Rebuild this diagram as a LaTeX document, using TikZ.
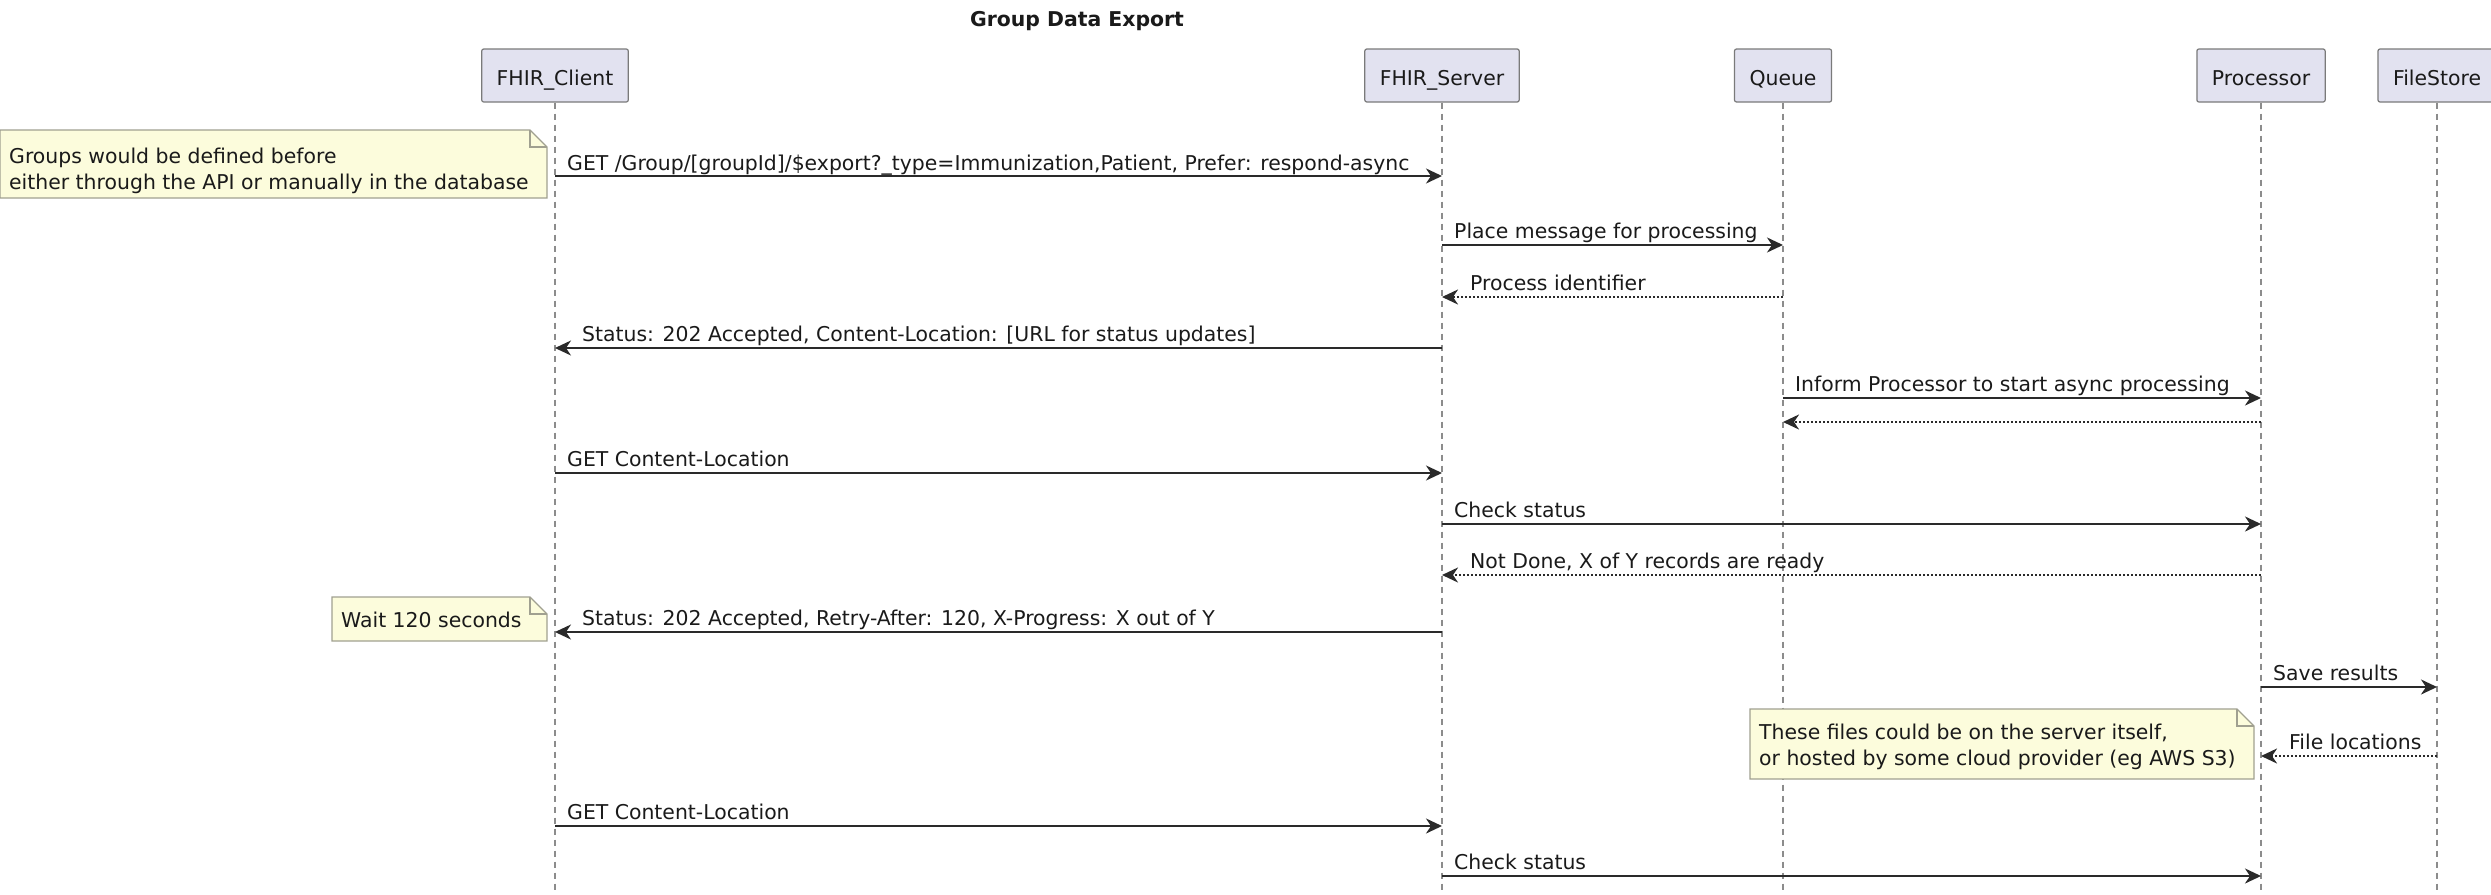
\documentclass[tikz,border=0pt]{standalone}
\usepackage{fontspec}
\setmainfont{DejaVu Sans}
\usetikzlibrary{arrows.meta,calc,backgrounds}
\definecolor{lifecol}{HTML}{8C8C8C}
\definecolor{partfill}{HTML}{E2E2F0}
\definecolor{partdraw}{HTML}{7A7A7A}
\definecolor{notefill}{HTML}{FCFCDC}
\definecolor{notedraw}{HTML}{A0A090}
\definecolor{msgcol}{HTML}{2A2A2A}
\definecolor{txtcol}{HTML}{1A1A1A}
\newcommand{\txtfont}{\fontsize{20.4}{25}\selectfont}
\tikzset{
  part/.style={draw=partdraw, fill=partfill, rounded corners=2pt, line width=1.2pt,
    minimum height=53pt, inner xsep=15pt, inner ysep=0pt, text height=19pt, text depth=0pt,
    font=\txtfont, text=txtcol},
  life/.style={draw=lifecol, line width=1.2pt, dash pattern=on 6pt off 5pt},
  call/.style={draw=msgcol, line width=2.2pt, -{Stealth[length=16pt,width=15pt,inset=5pt]}},
  ret/.style={call, dash pattern=on 2pt off 2pt},
  lbl/.style={font=\txtfont, inner sep=0pt, anchor=base west, text=txtcol},
  titlestyle/.style={font=\txtfont\bfseries, inner sep=0pt, anchor=base, text=txtcol},
  notebg/.style={fill=notefill, draw=notedraw, line width=1.2pt, line join=miter},
}
\newcommand{\mynote}[4]{%
  \draw[notebg] (#1,#2) -- ({#3-17},#2) -- (#3,{#2+17}) -- (#3,#4) -- (#1,#4) -- cycle;
  \draw[notebg, fill=none] ({#3-17},#2) -- ({#3-17},{#2+17}) -- (#3,{#2+17});
}
\begin{document}
\begin{tikzpicture}[x=1pt,y=-1pt]
\useasboundingbox (0,0) rectangle (2491,894);

\node[titlestyle] (title) at (1077,26) {Group Data Export};

% participants
\node[part] (client) at (555,75.5) {FHIR\_Client};
\node[part] (server) at (1442,75.5) {FHIR\_Server};
\node[part] (queue) at (1783,75.5) {Queue};
\node[part] (proc) at (2261,75.5) {Processor};
\node[part] (store) at (2437,75.5) {FileStore};

\coordinate (bot) at (0,894);
\begin{pgfonlayer}{background}
  \foreach \p in {client,server,queue,proc,store}
    \draw[life] (\p.south) -- (\p.south |- bot);
  % notes
  \mynote{0}{130}{547}{198}
  \mynote{332}{597}{547}{641}
  \mynote{1750}{709}{2254}{779}
\end{pgfonlayer}

% note texts
\node[lbl] (n1a) at (9,163) {Groups would be defined before};
\node[lbl] (n1b) at (9,189) {either through the API or manually in the database};
\node[lbl] (n2) at (341,627) {Wait 120 seconds};
\node[lbl] (n3a) at (1759,739) {These files could be on the server itself,};
\node[lbl] (n3b) at (1759,765) {or hosted by some cloud provider (eg AWS S3)};

% message rows
\coordinate (m1) at (0,176);
\coordinate (m2) at (0,245);
\coordinate (m3) at (0,297);
\coordinate (m4) at (0,348);
\coordinate (m5) at (0,398);
\coordinate (m6) at (0,422);
\coordinate (m7) at (0,473);
\coordinate (m8) at (0,524);
\coordinate (m9) at (0,575);
\coordinate (m10) at (0,632);
\coordinate (m11) at (0,687);
\coordinate (m12) at (0,756);
\coordinate (m13) at (0,826);
\coordinate (m14) at (0,876);

\draw[call] (client |- m1) -- (server |- m1);
\node[lbl] (l1) at ($(client |- m1)+(12,-6)$) {GET /Group/[groupId]/\$export?\_type=Immunization,Patient, Prefer: respond-async};

\draw[call] (server |- m2) -- (queue |- m2);
\node[lbl] (l2) at ($(server |- m2)+(12,-7)$) {Place message for processing};

\draw[ret] (queue |- m3) -- (server |- m3);
\node[lbl] (l3) at ($(server |- m3)+(28,-7)$) {Process identifier};

\draw[call] (server |- m4) -- (client |- m4);
\node[lbl] (l4) at ($(client |- m4)+(27,-7)$) {Status: 202 Accepted, Content-Location: [URL for status updates]};

\draw[call] (queue |- m5) -- (proc |- m5);
\node[lbl] (l5) at ($(queue |- m5)+(12,-7)$) {Inform Processor to start async processing};

\draw[ret] (proc |- m6) -- (queue |- m6);

\draw[call] (client |- m7) -- (server |- m7);
\node[lbl] (l7) at ($(client |- m7)+(12,-7)$) {GET Content-Location};

\draw[call] (server |- m8) -- (proc |- m8);
\node[lbl] (l8) at ($(server |- m8)+(12,-7)$) {Check status};

\draw[ret] (proc |- m9) -- (server |- m9);
\node[lbl] (l9) at ($(server |- m9)+(28,-7)$) {Not Done, X of Y records are ready};

\draw[call] (server |- m10) -- (client |- m10);
\node[lbl] (l10) at ($(client |- m10)+(27,-7)$) {Status: 202 Accepted, Retry-After: 120, X-Progress: X out of Y};

\draw[call] (proc |- m11) -- (store |- m11);
\node[lbl] (l11) at ($(proc |- m11)+(12,-7)$) {Save results};

\draw[ret] (store |- m12) -- (proc |- m12);
\node[lbl] (l12) at ($(proc |- m12)+(28,-7)$) {File locations};

\draw[call] (client |- m13) -- (server |- m13);
\node[lbl] (l13) at ($(client |- m13)+(12,-7)$) {GET Content-Location};

\draw[call] (server |- m14) -- (proc |- m14);
\node[lbl] (l14) at ($(server |- m14)+(12,-7)$) {Check status};
\end{tikzpicture}
\end{document}
